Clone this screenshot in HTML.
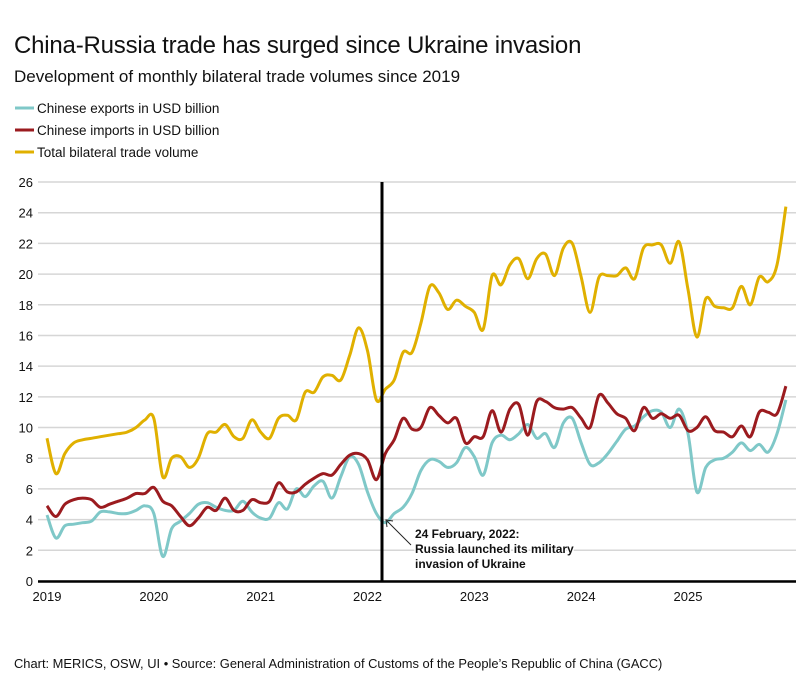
<!DOCTYPE html>
<html><head><meta charset="utf-8"><style>
body{margin:0;background:#fff;font-family:"Liberation Sans",sans-serif;}
svg{display:block}
</style></head><body>
<svg id="chart" width="810" height="685" viewBox="0 0 810 685" xmlns="http://www.w3.org/2000/svg" font-family="Liberation Sans, DejaVu Sans, sans-serif">
<text x="14" y="53" font-size="24" letter-spacing="-0.2" fill="#111">China-Russia trade has surged since Ukraine invasion</text>
<text x="14" y="82" font-size="17" fill="#111">Development of monthly bilateral trade volumes since 2019</text>
<g>
<g><line x1="15" y1="108" x2="34" y2="108" stroke="#7fc8c8" stroke-width="3"/><text x="37" y="113" font-size="13.5" fill="#111">Chinese exports in USD billion</text></g>
<g><line x1="15" y1="130" x2="34" y2="130" stroke="#9b1b1f" stroke-width="3"/><text x="37" y="135" font-size="13.5" fill="#111">Chinese imports in USD billion</text></g>
<g><line x1="15" y1="152" x2="34" y2="152" stroke="#e0b000" stroke-width="3"/><text x="37" y="157" font-size="13.5" fill="#111">Total bilateral trade volume</text></g>
</g>
<g id="grid"></g>
<g id="series"></g>
<g id="xaxis"></g>
<g>
<line x1="382" y1="182" x2="382" y2="582" stroke="#000" stroke-width="3"/>
<line x1="411" y1="545" x2="387" y2="521" stroke="#222" stroke-width="1"/>
<polyline points="387,527 386,520 393,521" fill="none" stroke="#222" stroke-width="1"/>
<g font-size="12" font-weight="bold" fill="#111" stroke="#fff" stroke-width="3" paint-order="stroke">
<text x="415" y="538">24 February, 2022:</text>
<text x="415" y="553">Russia launched its military</text>
<text x="415" y="568">invasion of Ukraine</text>
</g>
</g>
<text x="14" y="668" font-size="12.9" fill="#111">Chart: MERICS, OSW, UI • Source: General Administration of Customs of the People’s Republic of China (GACC)</text>
</svg>
<script>
const yTicks=[0,2,4,6,8,10,12,14,16,18,20,22,24,26];
const xTickLabels=["2019","2020","2021","2022","2023","2024","2025"];
const exportsData=[4.3,2.8,3.6,3.7,3.8,3.9,4.5,4.5,4.4,4.4,4.6,4.9,4.4,1.6,3.4,3.9,4.4,5.0,5.1,4.8,4.6,4.6,5.2,4.5,4.1,4.1,5.1,4.7,6.0,5.5,6.2,6.5,5.4,6.8,8.1,7.6,5.8,4.4,3.8,4.4,4.8,5.7,7.2,7.9,7.8,7.4,7.7,8.7,8.1,6.9,9.0,9.5,9.2,9.6,10.2,9.3,9.6,8.7,10.3,10.6,9.0,7.6,7.7,8.3,9.1,9.9,10.1,10.7,11.1,11.0,10.0,11.2,9.6,5.8,7.4,7.9,8.0,8.4,9.0,8.5,8.9,8.4,9.6,11.8];
const importsData=[4.9,4.2,5.0,5.3,5.4,5.3,4.8,5.0,5.2,5.4,5.7,5.7,6.1,5.2,4.9,4.2,3.6,4.1,4.8,4.6,5.4,4.6,4.6,5.3,5.1,5.2,6.4,5.8,5.8,6.3,6.7,7.0,6.9,7.6,8.2,8.3,7.9,6.6,8.3,9.2,10.6,9.9,10.0,11.3,10.8,10.3,10.6,9.0,9.4,9.4,11.1,9.7,11.2,11.5,9.5,11.7,11.7,11.3,11.2,11.3,10.6,10.0,12.1,11.6,10.9,10.6,9.8,11.3,10.6,10.9,10.6,10.8,9.8,10.0,10.7,9.8,9.7,9.4,10.1,9.4,11.0,11.0,10.9,12.7];
const totalData=[9.3,7.0,8.3,9.0,9.2,9.3,9.4,9.5,9.6,9.7,10.0,10.5,10.6,6.8,8.0,8.1,7.4,8.0,9.6,9.7,10.2,9.4,9.3,10.5,9.7,9.3,10.6,10.8,10.5,12.3,12.3,13.3,13.4,13.1,14.7,16.5,15.0,11.8,12.5,13.1,14.9,14.9,16.8,19.2,18.8,17.7,18.3,17.9,17.5,16.4,19.9,19.3,20.6,21.0,19.7,21.0,21.3,19.9,21.7,22.0,19.8,17.5,19.8,19.9,19.9,20.4,19.7,21.7,21.9,21.9,20.7,22.1,19.0,15.9,18.4,17.9,17.8,17.8,19.2,18.0,19.8,19.5,20.6,24.4];

const NS="http://www.w3.org/2000/svg";
const x0=47, monthW=(688-47)/72;
function xScale(i){return x0+i*monthW;}
function yScale(v){return 581-v*(399/26);}
const grid=document.getElementById('grid');
yTicks.forEach(t=>{
  const l=document.createElementNS(NS,'line');
  
  
  l.setAttribute('x1',38);l.setAttribute('x2',796);
  l.setAttribute('y1',yScale(t));l.setAttribute('y2',yScale(t));
  l.setAttribute('stroke','#d6d6d6');l.setAttribute('stroke-width','1.5');
  grid.appendChild(l);
  const tx=document.createElementNS(NS,'text');
  
  
  tx.setAttribute('x',33);tx.setAttribute('y',yScale(t)+5);
  tx.setAttribute('text-anchor','end');tx.setAttribute('font-size','13');tx.setAttribute('fill','#111');
  tx.textContent=t;grid.appendChild(tx);
});
const xa=document.getElementById('xaxis');
const ax=document.createElementNS(NS,'line');


ax.setAttribute('x1',38);ax.setAttribute('x2',796);ax.setAttribute('y1',581.5);ax.setAttribute('y2',581.5);
ax.setAttribute('stroke','#000');ax.setAttribute('stroke-width','2.5');xa.appendChild(ax);
xTickLabels.forEach((lab,k)=>{
  const tx=document.createElementNS(NS,'text');
  
  
  tx.setAttribute('x',xScale(k*12));tx.setAttribute('y',601);
  tx.setAttribute('text-anchor','middle');tx.setAttribute('font-size','13');tx.setAttribute('fill','#111');
  tx.textContent=lab;xa.appendChild(tx);
});
function smoothPath(vals){
  const p=vals.map((v,i)=>[xScale(i),yScale(v)]);
  let d='M'+p[0][0].toFixed(1)+','+p[0][1].toFixed(1);
  for(let i=0;i<p.length-1;i++){
    const a=p[i-1]||p[i],b=p[i],c=p[i+1],e=p[i+2]||c;
    const c1=[b[0]+(c[0]-a[0])/6,b[1]+(c[1]-a[1])/6];
    const c2=[c[0]-(e[0]-b[0])/6,c[1]-(e[1]-b[1])/6];
    d+=' C'+c1[0].toFixed(1)+','+c1[1].toFixed(1)+' '+c2[0].toFixed(1)+','+c2[1].toFixed(1)+' '+c[0].toFixed(1)+','+c[1].toFixed(1);
  }
  return d;
}
const sg=document.getElementById('series');
function addLine(vals,color,name){
  const p=document.createElementNS(NS,'path');
  
  
  p.setAttribute('d',smoothPath(vals));p.setAttribute('fill','none');
  p.setAttribute('stroke',color);p.setAttribute('stroke-width','3');p.setAttribute('stroke-linejoin','round');
  sg.appendChild(p);
}
addLine(totalData,'#e0b000','total-line');
addLine(exportsData,'#7fc8c8','exports-line');
addLine(importsData,'#9b1b1f','imports-line');
</script>
</body></html>
